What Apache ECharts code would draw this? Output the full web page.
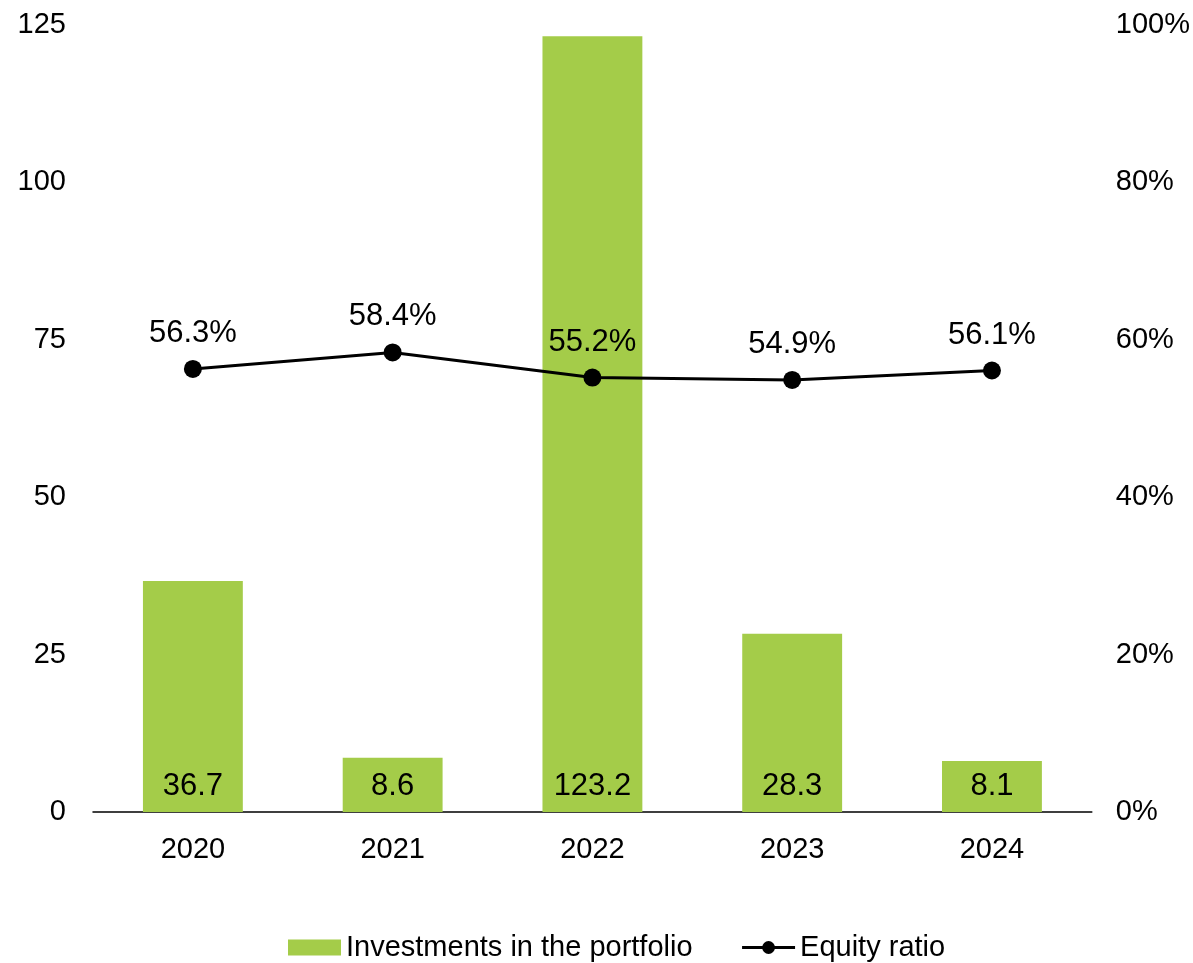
<!DOCTYPE html>
<html>
<head>
<meta charset="utf-8">
<script src="https://cdn.jsdelivr.net/npm/echarts@6/dist/echarts.min.js"></script>
<style>html,body{margin:0;padding:0;background:#fff;}#c{width:1193px;height:963px;}</style>
</head>
<body>
<div id="c"></div>
<script>
const categories = ['2020', '2021', '2022', '2023', '2024'];
const investments = [36.7, 8.6, 123.2, 28.3, 8.1];
const equityRatio = [56.3, 58.4, 55.2, 54.9, 56.1];

const FONT = '"Liberation Sans", Arial, sans-serif';
const chart = echarts.init(document.getElementById('c'));
chart.setOption({
  animation: false,
  textStyle: { fontFamily: FONT, color: '#000' },
  grid: { left: 93, right: 100, top: 25, bottom: 151, containLabel: false },
  legend: {
    left: 283, bottom: -4,
    itemWidth: 53, itemHeight: 16, itemGap: 48,
    textStyle: { fontSize: 29, color: '#000', fontFamily: FONT },
    data: [
      { name: 'Investments in the portfolio', icon: 'rect' },
      { name: 'Equity ratio', lineStyle: { width: 3, color: '#000' }, itemStyle: { color: '#000' } }
    ]
  },
  xAxis: {
    type: 'category', data: categories,
    axisLine: { lineStyle: { color: '#000', width: 1.5 } },
    axisTick: { show: false },
    axisLabel: { fontSize: 29, color: '#000', margin: 23, fontFamily: FONT }
  },
  yAxis: [
    {
      type: 'value', min: 0, max: 125, interval: 25,
      axisLine: { show: false }, axisTick: { show: false }, splitLine: { show: false },
      axisLabel: { fontSize: 29, color: '#000', margin: 27, fontFamily: FONT }
    },
    {
      type: 'value', min: 0, max: 100, interval: 20,
      axisLine: { show: false }, axisTick: { show: false }, splitLine: { show: false },
      axisLabel: { fontSize: 29, color: '#000', margin: 24, formatter: '{value}%', fontFamily: FONT }
    }
  ],
  series: [
    {
      name: 'Investments in the portfolio', type: 'bar', data: investments,
      barWidth: '50%', itemStyle: { color: '#A4CC49' },
      label: { show: true, position: 'insideBottom', distance: 10, fontSize: 31, color: '#000', fontFamily: FONT,
        formatter: p => p.value.toFixed(1) }
    },
    {
      name: 'Equity ratio', type: 'line', yAxisIndex: 1, data: equityRatio,
      symbol: 'circle', symbolSize: 18,
      lineStyle: { color: '#000', width: 3 }, itemStyle: { color: '#000' },
      label: { show: true, position: 'top', distance: 11, fontSize: 31, color: '#000', fontFamily: FONT,
        formatter: p => p.value.toFixed(1) + '%' }
    }
  ]
});
</script>
</body>
</html>
